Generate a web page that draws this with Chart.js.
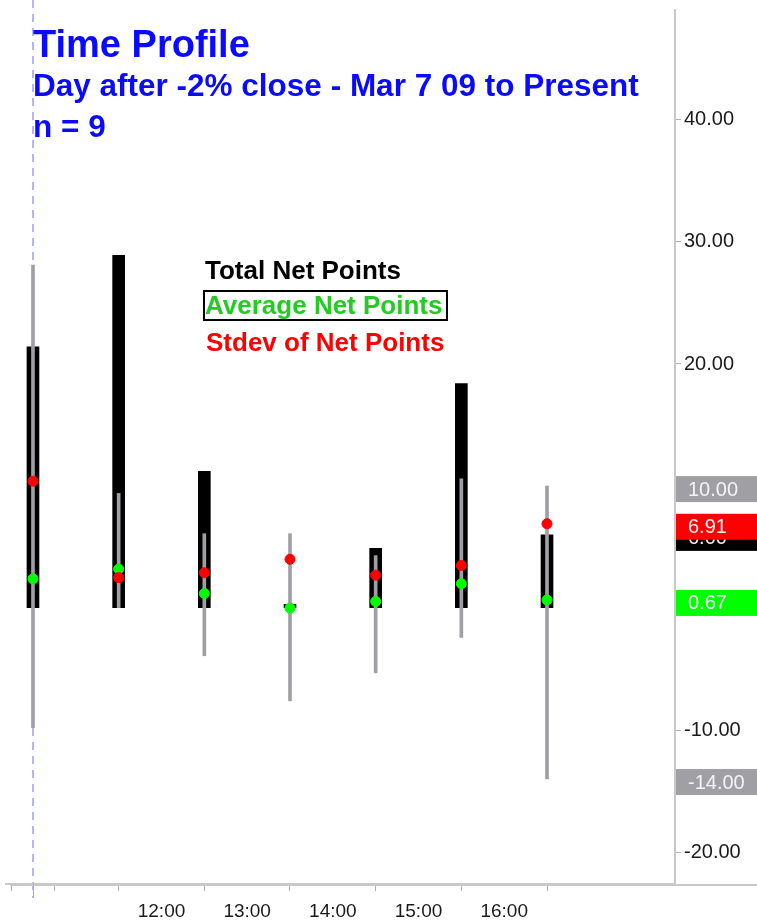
<!DOCTYPE html>
<html>
<head>
<meta charset="utf-8">
<script src="https://cdn.jsdelivr.net/npm/chart.js@4.4.0/dist/chart.umd.min.js"></script>
<style>
  html, body { margin: 0; padding: 0; background: #fff; }
  #wrap { width: 757px; height: 921px; position: relative; }
</style>
</head>
<body>
<div id="wrap"><canvas id="profileChart"></canvas></div>
<script>
(function() {

    // hour of day (half-hour slots)
    var slots = [10.5, 11.5, 12.5, 13.5, 14.5, 15.5, 16.5];
    var totalNet = [21.4, 28.9, 11.2, 0.3, 4.9, 18.4, 6.0];
    var avgNet = [2.4, 3.2, 1.2, 0.0, 0.55, 2.0, 0.67];
    var stdevNet = [10.4, 2.5, 2.9, 4.0, 2.7, 3.5, 6.91];
    var highNet = [28.1, 9.4, 6.1, 6.1, 4.3, 10.6, 10.0];
    var lowNet = [-9.8, 0.0, -3.9, -7.6, -5.3, -2.4, -14.0];
    var hourTicks = [10.5, 11, 12, 13, 14, 15, 16];
    var hourLabels = ["", "", "12:00", "13:00", "14:00", "15:00", "16:00"];
    var yTicks = [-20, -10, 0, 10, 20, 30, 40];

    var blue = "#0a0aff";
    var grey = "#a0a0a4";
    var font = "'Liberation Sans', Arial, sans-serif";

    function pts(arr) {
        return slots.map(function(x, i) { return { x: x, y: arr[i] }; });
    }

    var canvas = document.getElementById("profileChart");

    // title, legend text, dashed session line, right side value tags
    var overlay = {
        id: "overlay",
        beforeDatasetsDraw: function(chart) {
            var ctx = chart.ctx;
            var xs = chart.scales.x;
            var x0 = Math.round(xs.getPixelForValue(slots[0]));
            ctx.save();
            ctx.strokeStyle = "#b4b4ff";
            ctx.lineWidth = 2;
            ctx.setLineDash([8, 6]);
            ctx.beginPath();
            ctx.moveTo(x0, 0);
            ctx.lineTo(x0, 898);
            ctx.stroke();
            ctx.restore();
        },
        afterDraw: function(chart) {
            var ctx = chart.ctx;
            var ys = chart.scales.y;
            var xs = chart.scales.x;
            var area = chart.chartArea;
            ctx.save();

            // bottom axis runs on under the price scale
            ctx.fillStyle = "#c8c8c8";
            ctx.fillRect(10, area.bottom, 757 - 10, 2);

            // longer tick at session start
            var x0 = Math.round(xs.getPixelForValue(slots[0])) + 0.5;
            ctx.strokeStyle = "#b0b0b0";
            ctx.lineWidth = 1;
            ctx.beginPath();
            ctx.moveTo(x0, area.bottom);
            ctx.lineTo(x0, area.bottom + 14);
            ctx.stroke();

            ctx.textBaseline = "alphabetic";
            ctx.textAlign = "left";
            ctx.fillStyle = blue;
            ctx.font = "bold 38px " + font;
            ctx.fillText("Time Profile", 33, 57);
            ctx.font = "bold 31.5px " + font;
            ctx.fillText("Day after -2% close - Mar 7 09 to Present", 33, 96);
            ctx.fillText("n = 9", 33, 137);

            // legend
            ctx.font = "bold 26px " + font;
            ctx.fillStyle = "#000";
            ctx.fillText(chart.data.datasets[0].label, 205, 279);
            ctx.fillStyle = "#22cc22";
            ctx.fillText(chart.data.datasets[2].label, 205, 314);
            ctx.strokeStyle = "#000";
            ctx.lineWidth = 2;
            ctx.strokeRect(204, 291, 243, 29);
            ctx.fillStyle = "#ff0000";
            ctx.fillText(chart.data.datasets[3].label, 206, 351);

            // value tags on the right axis
            var last = slots.length - 1;
            var tags = [
                { v: highNet[last], bg: grey },
                { v: lowNet[last], bg: grey },
                { v: totalNet[last], bg: "#000000" },
                { v: stdevNet[last], bg: "#ff0000" },
                { v: avgNet[last], bg: "#00ff00" }
            ];
            ctx.font = "20px " + font;
            ctx.textBaseline = "middle";
            tags.forEach(function(t) {
                var py = ys.getPixelForValue(t.v) + 3;
                ctx.fillStyle = t.bg;
                ctx.fillRect(676, py - 13, 81, 26);
                ctx.fillStyle = "#f4f4f4";
                ctx.fillText(t.v.toFixed(2), 688, py + 1);
            });
            ctx.restore();
        }
    };

    var myChart = new Chart(canvas, {
        data: {
            datasets: [{
                type: "bar",
                label: "Total Net Points",
                data: pts(totalNet),
                backgroundColor: "#000000",
                barThickness: 12,
                grouped: false,
                order: 4
            }, {
                type: "bar",
                label: "Range",
                data: slots.map(function(x, i) { return { x: x, y: [lowNet[i], highNet[i]] }; }),
                backgroundColor: grey,
                barThickness: 3,
                grouped: false,
                order: 3
            }, {
                type: "line",
                label: "Average Net Points",
                data: pts(avgNet),
                showLine: false,
                pointRadius: 5,
                pointBackgroundColor: "#00ff00",
                pointBorderColor: "#00ff00",
                order: 2
            }, {
                type: "line",
                label: "Stdev of Net Points",
                data: pts(stdevNet),
                showLine: false,
                pointRadius: 5,
                pointBackgroundColor: "#ff0000",
                pointBorderColor: "#ff0000",
                order: 1
            }]
        },
        options: {
            responsive: true,
            maintainAspectRatio: false,
            animation: false,
            layout: { padding: { top: 10, left: 0, right: 0, bottom: 0 } },
            plugins: {
                legend: { display: false },
                tooltip: { enabled: false }
            },
            scales: {
                x: {
                    type: "linear",
                    offset: false,
                    min: 10.185,
                    max: 17.994,
                    afterBuildTicks: function(scale) {
                        scale.ticks = hourTicks.map(function(v) { return { value: v }; });
                    },
                    afterFit: function(scale) {
                        scale.height = 37;
                        scale.paddingLeft = 0;
                        scale.paddingRight = 0;
                    },
                    ticks: {
                        autoSkip: false,
                        maxRotation: 0,
                        padding: 9,
                        color: "#1a1a1a",
                        font: { family: font, size: 19 },
                        callback: function(v, i) { return hourLabels[i]; }
                    },
                    grid: {
                        drawOnChartArea: false,
                        tickLength: 7,
                        color: "#b0b0b0"
                    },
                    border: { color: "#c8c8c8", width: 2 }
                },
                y: {
                    position: "right",
                    min: -22.6,
                    max: 49.0,
                    afterBuildTicks: function(scale) {
                        scale.ticks = yTicks.map(function(v) { return { value: v }; });
                    },
                    afterFit: function(scale) {
                        scale.width = 82;
                        scale.paddingTop = 0;
                        scale.paddingBottom = 0;
                    },
                    ticks: {
                        padding: 3,
                        color: "#1a1a1a",
                        font: { family: font, size: 20 },
                        callback: function(v) { return v.toFixed(2); }
                    },
                    grid: {
                        drawOnChartArea: false,
                        tickLength: 6,
                        color: "#b0b0b0"
                    },
                    border: { color: "#c8c8c8", width: 2 }
                }
            }
        },
        plugins: [overlay]
    });

})();
</script>
</body>
</html>
